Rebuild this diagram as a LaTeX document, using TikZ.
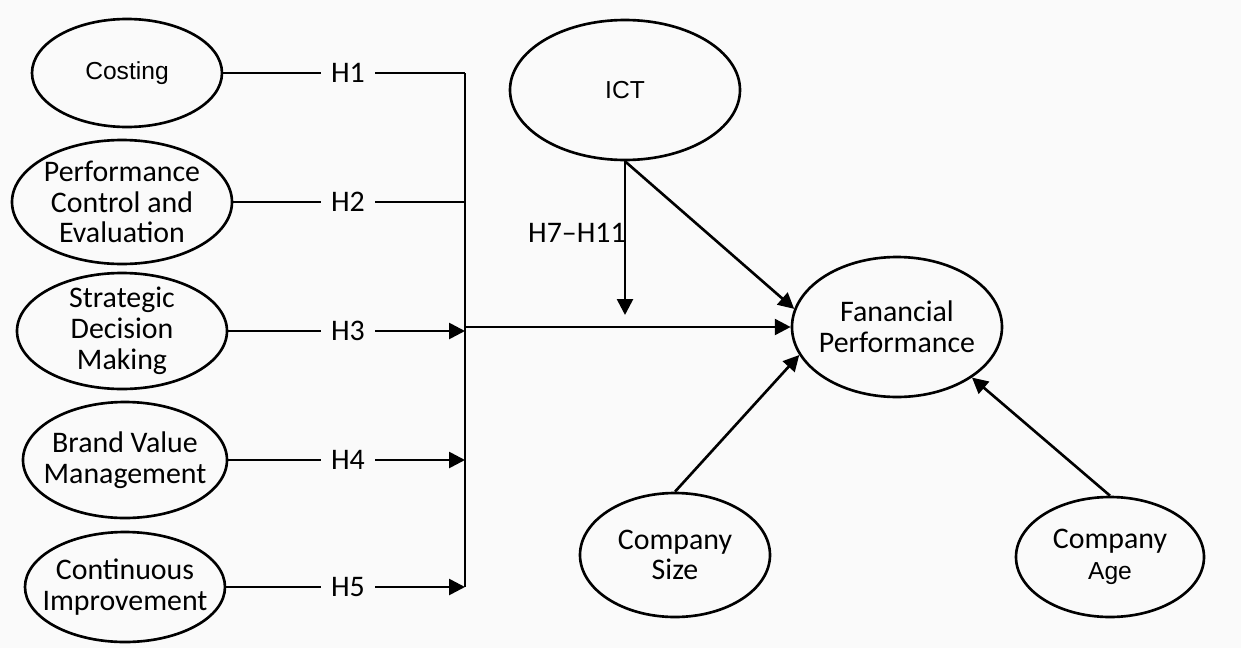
\documentclass[tikz,border=0pt]{standalone}
\usepackage{fontspec}
\setmainfont{Carlito}
\newfontfamily\arialfont{Liberation Sans}
\usetikzlibrary{shapes.geometric,arrows.meta}

\definecolor{paper}{RGB}{250,250,250}

\tikzset{
  construct/.style={draw, ellipse, line width=1.5pt, inner xsep=-8pt, inner ysep=-4pt, align=center,
    font=\fontsize{17}{17.5}\selectfont},
  hyp/.style={inner sep=0.2cm, font=\fontsize{17}{17.5}\selectfont},
  link/.style={line width=1.5pt},
  effect/.style={line width=1.5pt, -{Triangle[length=9pt,width=9pt]}}
}

\begin{document}
\begin{tikzpicture}
  % Background
  \fill[paper] (0,0) rectangle (24.82,-12.96);
  \useasboundingbox (0,0) rectangle (24.82,-12.96);

  % Draw the independent constructs
  \node[construct, minimum width=3.8cm, minimum height=2.16cm] (cost) at (2.54,-1.46) {\arialfont\fontsize{14}{16}\selectfont Costing};
  \node[construct, minimum width=4.4cm, minimum height=2.48cm] (pce) at (2.44,-4.04) {Performance\\Control and\\Evaluation};
  \node[construct, minimum width=4.2cm, minimum height=2.32cm] (sdm) at (2.44,-6.62) {Strategic\\Decision\\Making};
  \node[construct, minimum width=4.08cm, minimum height=2.32cm] (bvm) at (2.5,-9.2) {Brand Value\\Management};
  \node[construct, minimum width=4.0cm, minimum height=2.2cm] (ci) at (2.5,-11.74) {Continuous\\Improvement};

  % Draw moderator, outcome and controls
  \node[construct, minimum width=4.6cm, minimum height=2.8cm] (ict) at (12.5,-1.8) {\arialfont\fontsize{14}{16}\selectfont ICT};
  \node[construct, minimum width=4.2cm, minimum height=2.8cm] (fp) at (17.94,-6.54) {Fanancial\\Performance};
  \node[construct, minimum width=3.8cm, minimum height=2.48cm] (size) at (13.5,-11.1) {Company\\Size};
  \node[construct, minimum width=3.76cm, minimum height=2.4cm] (age) at (22.2,-11.14) {Company\\{\arialfont\fontsize{14}{16}\selectfont Age}};

  % Draw hypothesis labels
  \node[hyp] (h1) at (6.96,-1.46) {H1};
  \node[hyp] (h2) at (6.96,-4.04) {H2};
  \node[hyp] (h3) at (6.96,-6.62) {H3};
  \node[hyp] (h4) at (6.96,-9.2) {H4};
  \node[hyp] (h5) at (6.96,-11.74) {H5};
  \node[hyp] (h7) at (11.54,-4.66) {H7–H11};

  % Junction points on the collecting bar
  \coordinate (j1) at (9.3,-1.46);
  \coordinate (j2) at (9.3,-4.04);
  \coordinate (j3) at (9.3,-6.62);
  \coordinate (j4) at (9.3,-9.2);
  \coordinate (j5) at (9.3,-11.74);
  \coordinate (m) at (9.3,-6.54);
  \coordinate (mod) at (12.5,-6.3);

  % Draw the paths
  \draw[link] (cost) -- (h1) -- (j1);
  \draw[link] (pce) -- (h2) -- (j2);
  \draw[link] (sdm) -- (h3);
  \draw[effect] (h3) -- (j3);
  \draw[link] (bvm) -- (h4);
  \draw[effect] (h4) -- (j4);
  \draw[link] (ci) -- (h5);
  \draw[effect] (h5) -- (j5);
  \draw[link] (j1) -- (j5);
  \draw[effect] (m) -- (fp);
  \draw[effect] (ict) -- (mod);
  \draw[effect] (ict.south) -- (fp.170);
  \draw[effect] (size.north) -- (fp.196);
  \draw[effect] (age.north) -- (fp.326);
\end{tikzpicture}
\end{document}
